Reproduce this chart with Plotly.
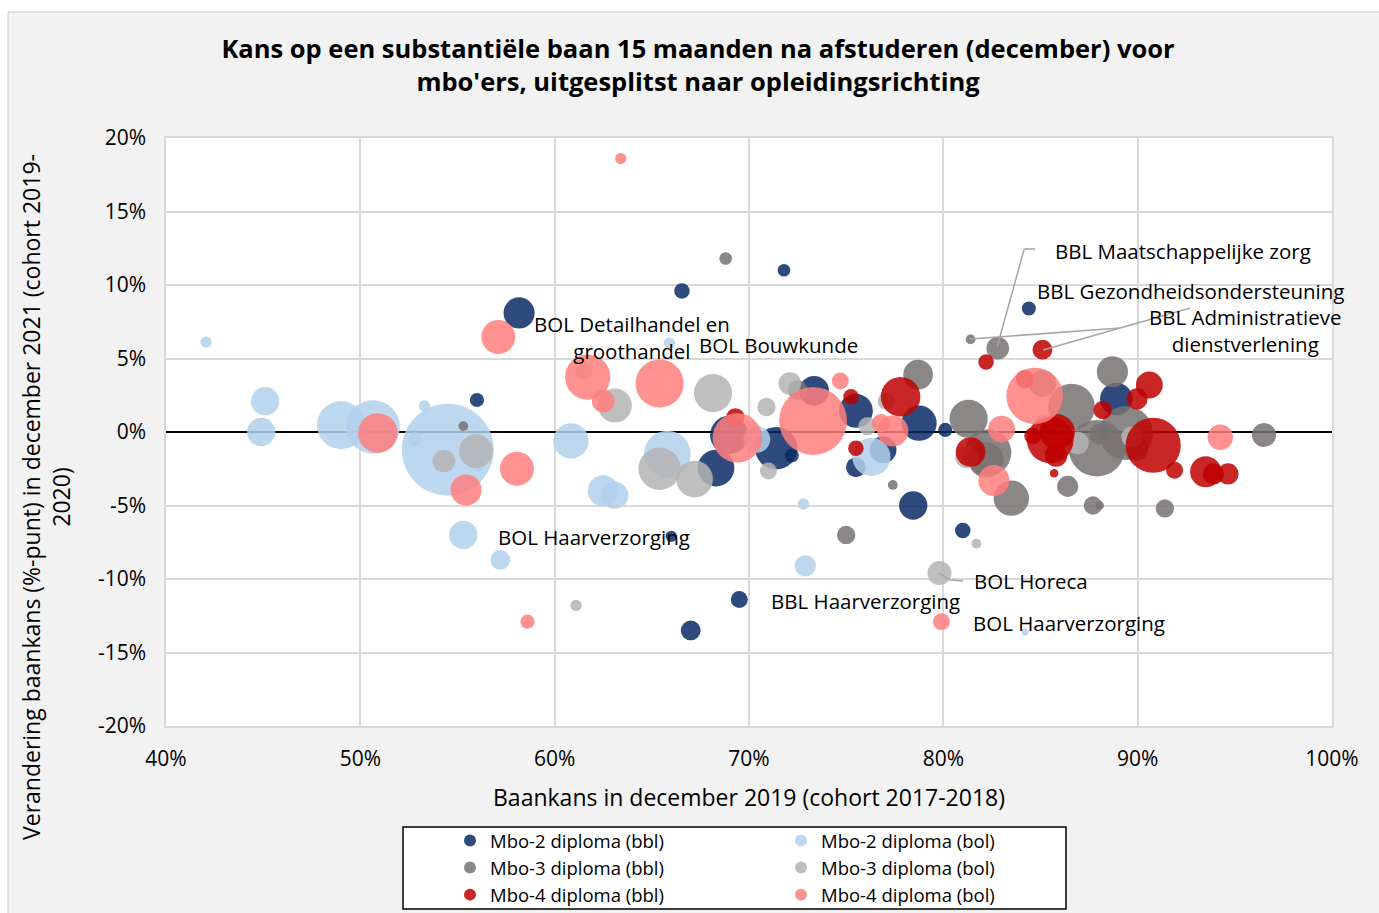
import plotly.graph_objects as go

# ---------------- DATA ----------------
# x: baankans dec 2019 (%), y: verandering (%-punt), n: aantal gediplomeerden (bubble size)
mbo2_bbl_x = [58.17, 56.0, 66.55, 71.8, 68.3, 68.98, 71.4, 72.2, 73.35, 75.5, 75.5, 76.9, 78.45, 78.75, 80.1, 81.0, 84.4, 88.9, 69.5, 67.0, 66.0]
mbo2_bbl_y = [8.1, 2.18, 9.6, 11.0, -2.45, -0.2, -1.1, -1.6, 2.8, 1.44, -2.4, -1.2, -5.0, 0.6, 0.14, -6.7, 8.4, 2.25, -11.4, -13.5, -7.1]
mbo2_bbl_n = [1210, 250, 300, 200, 1690, 1820, 2250, 250, 1100, 1440, 490, 900, 1000, 1560, 250, 300, 250, 1320, 360, 490, 160]

mbo2_bol_x = [42.06, 45.1, 44.9, 49.0, 50.65, 53.3, 52.8, 54.5, 56.06, 55.3, 57.2, 65.9, 60.84, 65.8, 62.5, 63.1, 70.4, 76.3, 72.8, 72.9, 84.2]
mbo2_bol_y = [6.12, 2.1, 0.0, 0.47, 0.34, 1.77, -0.5, -1.2, -2.2, -7.0, -8.7, 6.05, -0.6, -1.5, -4.0, -4.3, -0.5, -1.7, -4.9, -9.1, -13.6]
mbo2_bol_n = [160, 1000, 1000, 2890, 3610, 160, 250, 10560, 250, 1000, 490, 160, 1560, 2720, 1210, 900, 900, 1820, 160, 560, 60]

mbo3_bbl_x = [55.3, 68.8, 72.5, 77.4, 78.7, 75.0, 81.4, 82.8, 85.1, 86.6, 88.7, 81.3, 82.3, 82.2, 83.5, 86.4, 87.7, 88.05, 91.4, 96.5, 87.9, 88.05, 89.4, 89.9]
mbo3_bbl_y = [0.4, 11.8, 2.85, -3.6, 3.9, -7.0, 6.3, 5.7, 3.3, 1.7, 4.1, 0.9, -1.4, -1.9, -4.5, -3.7, -5.0, -5.0, -5.2, -0.2, -1.1, -0.14, -0.07, -1.1]
mbo3_bbl_n = [120, 200, 490, 120, 1100, 420, 120, 640, 900, 2720, 1210, 1820, 2720, 1560, 1560, 560, 420, 90, 420, 720, 4000, 560, 3610, 810]

mbo3_bol_x = [55.95, 54.3, 61.5, 63.1, 68.15, 65.4, 67.2, 70.9, 71.0, 72.1, 76.1, 77.06, 79.8, 61.1, 81.7, 81.2, 86.9, 89.7, 85.1]
mbo3_bol_y = [-1.3, -1.97, 4.1, 1.8, 2.65, -2.5, -3.2, 1.7, -2.65, 3.3, 0.4, 2.1, -9.6, -11.8, -7.6, -1.7, -0.75, -0.34, 0.7]
mbo3_bol_n = [1440, 640, 360, 1440, 1820, 2250, 1690, 420, 360, 640, 420, 360, 720, 160, 120, 640, 640, 560, 250]

mbo4_bbl_x = [69.3, 75.25, 75.5, 77.8, 82.2, 85.1, 84.2, 88.2, 89.97, 90.6, 84.6, 85.5, 85.86, 85.8, 85.7, 81.4, 90.8, 91.9, 93.5, 93.9, 94.65]
mbo4_bbl_y = [1.0, 2.4, -1.1, 2.4, 4.76, 5.6, 3.6, 1.5, 2.25, 3.2, -0.27, -0.54, 0.0, -1.6, -2.8, -1.36, -0.9, -2.6, -2.7, -2.85, -2.85]
mbo4_bbl_n = [420, 300, 300, 1960, 300, 490, 420, 420, 560, 900, 360, 2720, 1560, 640, 90, 1100, 3800, 360, 1210, 560, 560]

mbo4_bol_x = [57.1, 50.9, 58.06, 55.44, 58.6, 63.4, 61.7, 65.4, 62.5, 69.4, 73.3, 74.7, 76.8, 77.4, 79.9, 82.6, 84.7, 83.0, 94.25]
mbo4_bol_y = [6.46, -0.07, -2.5, -3.95, -12.9, 18.6, 3.74, 3.3, 2.1, -0.4, 0.75, 3.47, 0.6, 0.07, -12.9, -3.3, 2.45, 0.2, -0.35]
mbo4_bol_n = [1440, 1960, 1440, 1210, 250, 160, 2560, 2890, 640, 3060, 5760, 360, 420, 1210, 360, 1210, 4000, 900, 810]

series_names = ["Mbo-2 diploma (bbl)", "Mbo-2 diploma (bol)", "Mbo-3 diploma (bbl)",
                "Mbo-3 diploma (bol)", "Mbo-4 diploma (bbl)", "Mbo-4 diploma (bol)"]

x_ticks = [40, 50, 60, 70, 80, 90, 100]
x_tick_labels = ["40%", "50%", "60%", "70%", "80%", "90%", "100%"]
y_ticks = [-20, -15, -10, -5, 0, 5, 10, 15, 20]
y_tick_labels = ["-20%", "-15%", "-10%", "-5%", "0%", "5%", "10%", "15%", "20%"]

# labels: (text, x, y, xanchor)
labels = [
    ("BOL Detailhandel en<br>groothandel", 63.98, 6.46, "center"),
    ("BOL Bouwkunde", 67.33, 5.92, "left"),
    ("BBL Maatschappelijke zorg", 85.65, 12.31, "left"),
    ("BBL Gezondheidsondersteuning", 84.72, 9.59, "left"),
    ("BBL Administratieve<br>dienstverlening", 95.53, 6.9, "center"),
    ("BOL Haarverzorging", 56.98, -7.14, "left"),
    ("BBL Haarverzorging", 71.03, -11.5, "left"),
    ("BOL Horeca", 81.48, -10.14, "left"),
    ("BOL Haarverzorging", 81.43, -13.0, "left"),
]
# leader lines (data coordinates)
leaders = [
    [(84.72, 12.45), (84.16, 12.45), (82.77, 5.78)],
    [(92.70, 8.44), (85.14, 5.58)],
    [(89.10, 7.07), (81.38, 6.33)],
    [(79.78, -9.6), (80.35, -10.07), (81.02, -10.14)],
]

# ---------------- STYLE ----------------
FONT = "Open Sans, sans-serif"
colors = ["#0A2B66", "#B1D0EB", "#777271", "#B4B4B4", "#C00000", "#FF7E7E"]
SIZEREF = 2.5

W, H = 1379, 913
L, R, T, B = 166, 47, 138, 187
PW, PH = W - L - R, H - T - B


def px_to_paper(px, py):
    return (px - L) / PW, (H - B - py) / PH


data = [
    (mbo2_bbl_x, mbo2_bbl_y, mbo2_bbl_n),
    (mbo2_bol_x, mbo2_bol_y, mbo2_bol_n),
    (mbo3_bbl_x, mbo3_bbl_y, mbo3_bbl_n),
    (mbo3_bol_x, mbo3_bol_y, mbo3_bol_n),
    (mbo4_bbl_x, mbo4_bbl_y, mbo4_bbl_n),
    (mbo4_bol_x, mbo4_bol_y, mbo4_bol_n),
]

fig = go.Figure()
for i, ((xs, ys, ns), name, col) in enumerate(zip(data, series_names, colors)):
    fig.add_trace(go.Scatter(
        x=xs, y=ys, mode="markers", name=name,
        marker=dict(size=ns, sizemode="area", sizeref=SIZEREF, color=col,
                    opacity=0.85, line=dict(width=0)),
        legend="legend" if i % 2 == 0 else "legend2",
    ))

shapes = []
# white outer margins (top/left) and chart border
x0p, y1p = px_to_paper(0, 0)
x8p, y12p = px_to_paper(8, 12)
xrp, ybp = px_to_paper(W, H)
shapes.append(dict(type="rect", xref="paper", yref="paper", x0=x0p, x1=xrp, y0=y12p, y1=y1p,
                   fillcolor="white", line=dict(width=0), layer="below"))
shapes.append(dict(type="rect", xref="paper", yref="paper", x0=x0p, x1=x8p, y0=ybp, y1=y1p,
                   fillcolor="white", line=dict(width=0), layer="below"))
shapes.append(dict(type="line", xref="paper", yref="paper", x0=x8p, x1=xrp, y0=y12p, y1=y12p,
                   line=dict(color="#D9D9D9", width=1.5), layer="below"))
shapes.append(dict(type="line", xref="paper", yref="paper", x0=x8p, x1=x8p, y0=ybp, y1=y12p,
                   line=dict(color="#D9D9D9", width=1.5), layer="below"))
# legend box
lx0, ly0 = px_to_paper(403, 909)
lx1, ly1 = px_to_paper(1066, 827)
shapes.append(dict(type="rect", xref="paper", yref="paper", x0=lx0, x1=lx1, y0=ly0, y1=ly1,
                   fillcolor="white", line=dict(color="black", width=1.5), layer="below"))
for pts in leaders:
    for (xa, ya), (xb, yb) in zip(pts[:-1], pts[1:]):
        shapes.append(dict(type="line", xref="x", yref="y", x0=xa, y0=ya, x1=xb, y1=yb,
                           line=dict(color="#A6A6A6", width=1.5), layer="above"))

annotations = []
for text, xv, yv, anc in labels:
    annotations.append(dict(text=text, x=xv, y=yv, xref="x", yref="y", showarrow=False,
                            xanchor=anc, yanchor="middle", align="center",
                            font=dict(family=FONT, size=20.5, color="black")))
# axis titles
axp, ayp = px_to_paper(749, 797)
annotations.append(dict(text="Baankans in december 2019 (cohort 2017-2018)", x=axp, y=ayp,
                        xref="paper", yref="paper", showarrow=False, xanchor="center", yanchor="middle",
                        font=dict(family=FONT, size=23, color="black")))
yxp, yyp = px_to_paper(46, 497)
annotations.append(dict(text="Verandering baankans (%-punt) in december 2021 (cohort 2019-<br>2020)",
                        x=yxp, y=yyp, xref="paper", yref="paper", showarrow=False, textangle=-90,
                        xanchor="center", yanchor="middle", align="center",
                        font=dict(family=FONT, size=23, color="black")))

leg1x, legy = px_to_paper(450, 822)
leg2x, _ = px_to_paper(781, 822)

fig.update_layout(
    width=W, height=H, autosize=False,
    margin=dict(l=L, r=R, t=T, b=B, pad=0, autoexpand=False),
    paper_bgcolor="#F2F2F2", plot_bgcolor="white",
    title=dict(text="<b>Kans op een substantiële baan 15 maanden na afstuderen (december) voor<br>mbo'ers, uitgesplitst naar opleidingsrichting</b>",
               x=698 / W, xref="container", xanchor="center",
               y=1 - 58 / H, yref="container", yanchor="middle",
               font=dict(family=FONT, size=25.5, color="black")),
    font=dict(family=FONT, color="black"),
    xaxis=dict(range=[40, 100], tickvals=x_ticks, ticktext=x_tick_labels,
               showgrid=True, gridcolor="#D9D9D9", gridwidth=1.5,
               showline=True, linecolor="#D9D9D9", linewidth=1.5, mirror=True,
               zeroline=False, ticks="", ticklabelstandoff=13,
               tickfont=dict(family=FONT, size=21, color="black")),
    yaxis=dict(range=[-20, 20], tickvals=y_ticks, ticktext=y_tick_labels,
               showgrid=True, gridcolor="#D9D9D9", gridwidth=1.5,
               showline=True, linecolor="#D9D9D9", linewidth=1.5, mirror=True,
               zeroline=True, zerolinecolor="black", zerolinewidth=1.5,
               ticks="", ticklabelstandoff=14,
               tickfont=dict(family=FONT, size=21, color="black")),
    legend=dict(x=leg1x, y=legy, xanchor="left", yanchor="top", orientation="v",
                bgcolor="rgba(0,0,0,0)", borderwidth=0, itemsizing="constant",
                font=dict(family=FONT, size=18.5, color="black"), tracegroupgap=0),
    legend2=dict(x=leg2x, y=legy, xanchor="left", yanchor="top", orientation="v",
                 bgcolor="rgba(0,0,0,0)", borderwidth=0, itemsizing="constant",
                 font=dict(family=FONT, size=18.5, color="black"), tracegroupgap=0),
    shapes=shapes,
    annotations=annotations,
    showlegend=True,
)

fig.write_html("out.html",
               config={"displayModeBar": False, "responsive": False},
               post_script="document.body.style.margin='0';document.body.style.overflow='hidden';")
